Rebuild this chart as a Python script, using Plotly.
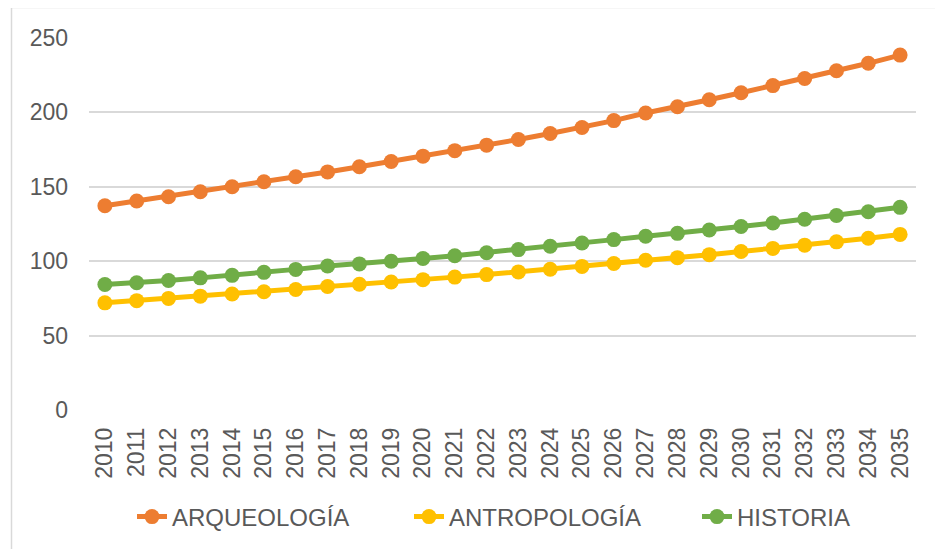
import plotly.graph_objects as go

years = list(range(2010, 2036))
arqueologia = [137.3, 140.5, 143.3, 146.7, 150.0, 153.4, 156.8, 160.0, 163.5, 167.0,
               170.6, 174.3, 178.0, 181.8, 185.8, 189.9, 194.5, 199.6, 203.8, 208.5,
               213.2, 218.0, 222.8, 228.0, 233.0, 238.5]
antropologia = [72.0, 73.5, 75.0, 76.5, 78.0, 79.5, 81.0, 83.0, 84.5, 86.0,
                87.6, 89.3, 91.0, 92.8, 94.6, 96.5, 98.5, 100.6, 102.4, 104.4,
                106.5, 108.6, 110.8, 113.0, 115.4, 118.0]
historia = [84.3, 85.5, 87.0, 88.8, 90.5, 92.5, 94.5, 96.8, 98.2, 100.0,
            101.8, 103.7, 105.7, 107.8, 110.0, 112.2, 114.5, 116.8, 118.7, 121.0,
            123.3, 125.7, 128.2, 130.7, 133.2, 136.2]
y_ticks = [0, 50, 100, 150, 200, 250]

series = [
    ("ARQUEOLOGÍA", arqueologia, "#ED7D31", "legend"),
    ("ANTROPOLOGÍA", antropologia, "#FFC000", "legend2"),
    ("HISTORIA", historia, "#70AD47", "legend3"),
]

# page-pixel geometry of the plot area (page has an 8px body margin)
PX0, PX1, PY0, PY1 = 89, 916, 410, 38
def px(x):
    return (x - PX0) / (PX1 - PX0)
def py(y):
    return (PY0 - y) / (PY0 - PY1)

fig = go.Figure()
for name, vals, color, lg in series:
    fig.add_trace(go.Scatter(
        x=years, y=vals, name=name, mode="lines+markers",
        line=dict(color=color, width=5),
        marker=dict(color=color, size=15),
        legend=lg,
    ))

font = dict(family="Liberation Sans, Arial, sans-serif", size=23, color="#595959")
lfont = dict(family="Liberation Sans, Arial, sans-serif", size=24, color="#595959")

def leg(text_x):
    return dict(orientation="h", x=px(text_x - 40), xanchor="left", y=py(517),
                yanchor="middle", font=lfont, bgcolor="rgba(0,0,0,0)")

fig.update_layout(
    width=943, height=549,
    margin=dict(l=81, r=35, t=30, b=147),
    paper_bgcolor="white", plot_bgcolor="white",
    font=font,
    showlegend=True,
    legend=leg(172),
    legend2=leg(449),
    legend3=leg(737),
    xaxis=dict(
        range=[2009.5, 2035.5], tickmode="array", tickvals=years,
        ticktext=[str(y) for y in years], tickangle=-90,
        showgrid=False, zeroline=False, showline=False,
        ticks="", ticklabelstandoff=12, tickfont=font,
    ),
    yaxis=dict(
        range=[0, 250], tickmode="array", tickvals=y_ticks,
        showgrid=True, gridcolor="#D9D9D9", gridwidth=1.5,
        zeroline=False, showline=False, ticks="",
        ticklabelstandoff=20, tickfont=font,
    ),
    shapes=[
        dict(type="line", xref="paper", yref="paper",
             x0=px(11.5), x1=px(11.5), y0=py(7.5), y1=py(560),
             line=dict(color="#D9D9D9", width=1.5)),
        dict(type="line", xref="paper", yref="paper",
             x0=px(11.5), x1=px(960), y0=py(7.5), y1=py(7.5),
             line=dict(color="#D9D9D9", width=1.5)),
    ],
)

fig.write_html("out.html")
